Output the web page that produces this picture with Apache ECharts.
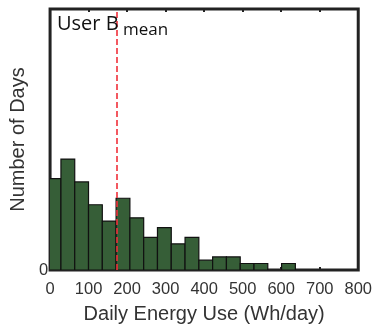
<!DOCTYPE html>
<html>
<head>
<meta charset="utf-8">
<script src="https://cdn.jsdelivr.net/npm/echarts@6/dist/echarts.min.js"></script>
<style>
  html, body { margin: 0; padding: 0; background: #fff; }
  #chart { width: 375px; height: 329px; }
</style>
</head>
<body>
<div id="chart"></div>
<script>
// histogram bins (Wh/day), first bin starts below 0 and is clipped by the axis
const binStart = [-7.6, 28.2, 64, 99.8, 135.6, 171.4, 207.2, 243, 278.8, 314.6,
                  350.4, 386.2, 422, 457.8, 493.6, 529.4, 565.2, 601];
const binWidth = 35.8;
const counts = [28, 34, 27, 20, 15, 22, 16, 10, 13, 8, 10, 3, 4, 4, 2, 2, 0, 2];
const meanValue = 174;
const xTicks = [0, 100, 200, 300, 400, 500, 600, 700, 800];

const chart = echarts.init(document.getElementById('chart'));

const data = binStart.map((s, i) => [s, s + binWidth, counts[i]]);

chart.setOption({
  animation: false,
  grid: {
    left: 49, right: 14, top: 9, bottom: 55,
    show: true,
    borderColor: '#222',
    borderWidth: 3,
    backgroundColor: 'transparent'
  },
  title: {
    text: 'User B',
    left: 52, top: 9,
    textStyle: {fontFamily: 'Open Sans', fontWeight: 'normal', fontSize: 20, color: '#111'}
  },
  graphic: [{
    type: 'text', left: 123, top: 22, z: 10,
    style: {text: 'mean', font: '17px "Open Sans"', fill: '#111'}
  }],
  xAxis: [{
    type: 'value', min: xTicks[0], max: xTicks[xTicks.length - 1], interval: 100,
    name: 'Daily Energy Use (Wh/day)',
    nameLocation: 'middle', nameGap: 34,
    nameTextStyle: {fontFamily: 'Liberation Sans', fontSize: 20, color: '#333'},
    axisLine: {show: false},
    axisTick: {show: true, inside: true, length: 3, lineStyle: {color: '#222', width: 2}},
    axisLabel: {fontFamily: 'Liberation Sans', fontSize: 16.5, color: '#333', margin: 11},
    splitLine: {show: false}
  }, {
    type: 'value', position: 'top', min: 0, max: 800, interval: 100,
    axisLine: {show: false},
    axisTick: {show: true, inside: true, length: 3, lineStyle: {color: '#222', width: 2}},
    axisLabel: {show: false},
    splitLine: {show: false}
  }],
  yAxis: {
    type: 'value', min: 0, max: 80,
    name: 'Number of Days',
    nameLocation: 'middle', nameGap: 20,
    nameTextStyle: {fontFamily: 'Liberation Sans', fontSize: 20, color: '#333'},
    axisLine: {show: false},
    axisTick: {show: false},
    axisLabel: {
      fontFamily: 'Liberation Sans', fontSize: 16.5, color: '#333', margin: 2,
      formatter: v => (v === 0 ? '0' : '')
    },
    splitLine: {show: false}
  },
  series: [{
    type: 'custom',
    clip: true,
    data: data,
    encode: {x: [0, 1], y: 2},
    renderItem: function (params, api) {
      const p0 = api.coord([api.value(0), 0]);
      const p1 = api.coord([api.value(1), api.value(2)]);
      if (api.value(2) <= 0) return null;
      return {
        type: 'rect',
        shape: {x: p0[0], y: p1[1], width: p1[0] - p0[0], height: p0[1] - p1[1]},
        style: {fill: '#365e37', stroke: '#111', lineWidth: 1.2}
      };
    },
    markLine: {
      silent: true,
      symbol: 'none',
      label: {show: false},
      lineStyle: {color: '#f0303a', width: 1.6, type: [6, 3], opacity: 1},
      data: [{xAxis: meanValue}]
    }
  }]
});
</script>
</body>
</html>
